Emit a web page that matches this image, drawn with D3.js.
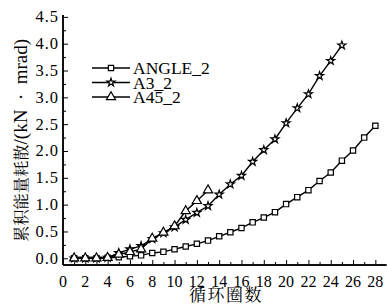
<!DOCTYPE html>
<html>
<head>
<meta charset="utf-8">
<title>Cumulative energy</title>
<script src="https://cdn.jsdelivr.net/npm/d3@7"></script>
<style>
  body { margin: 0; background: #fff; }
</style>
</head>
<body>
<script>
// values
var seriesNames = ["ANGLE_2", "A3_2", "A45_2"];
var angleCycles = d3.range(1, 29);
var angleValues = [0.0, 0.0, 0.0, 0.01, 0.02, 0.04, 0.055, 0.1, 0.12, 0.17, 0.22, 0.27, 0.33, 0.41,
                   0.485, 0.565, 0.67, 0.76, 0.86, 1.01, 1.14, 1.27, 1.44, 1.60, 1.82, 2.01, 2.25, 2.47];
var a3Cycles = d3.range(1, 26);
var a3Values = [0.0, 0.0, 0.0, 0.01, 0.1, 0.17, 0.23, 0.36, 0.47, 0.58, 0.72, 0.85, 0.975,
                1.19, 1.38, 1.54, 1.80, 2.02, 2.22, 2.52, 2.80, 3.06, 3.40, 3.68, 3.97];
var a45Cycles = d3.range(1, 14);
var a45Values = [0.0, 0.0, 0.0, 0.01, 0.07, 0.12, 0.17, 0.37, 0.48, 0.6, 0.88, 1.07, 1.27];
var xTicks = d3.range(0, 29, 2);
var yTicks = [0, 0.5, 1.0, 1.5, 2.0, 2.5, 3.0, 3.5, 4.0, 4.5];

var SERIF = "'Liberation Serif', 'Times New Roman', serif";
var CJK = "'Noto Serif CJK SC', 'Noto Sans CJK SC', serif";

var W = 387, H = 305;
var svg = d3.select("body").append("svg").attr("width", W).attr("height", H);

var x = d3.scaleLinear().domain([0, 29]).range([63, 386.5]);
var y = d3.scaleLinear().domain([-0.125, 4.535]).range([265, 15]);

// axes with inward ticks
var xMajor = d3.axisTop(x).tickValues(xTicks).tickSize(5).tickFormat("");
var xMinor = d3.axisTop(x).tickValues(d3.range(1, 29, 2)).tickSize(3).tickFormat("");
var gx = svg.append("g").attr("transform", "translate(0," + y(-0.125) + ")");
gx.call(xMajor);
gx.append("g").call(xMinor);
gx.selectAll("path.domain").attr("d", "M" + x(0) + ",0H" + x(29)).attr("stroke-width", 1.5);
svg.append("g").selectAll("text").data(xTicks).join("text")
  .attr("x", function(d) { return x(d); })
  .attr("y", 287)
  .attr("text-anchor", "middle")
  .style("font-family", SERIF)
  .style("font-size", "16px")
  .text(function(d) { return d; });

var yMajor = d3.axisRight(y).tickValues(yTicks).tickSize(5).tickFormat("");
var yMinor = d3.axisRight(y).tickValues(d3.range(0.25, 4.5, 0.5)).tickSize(3).tickFormat("");
var gy = svg.append("g").attr("transform", "translate(" + x(0) + ",0)");
gy.call(yMajor);
gy.append("g").call(yMinor);
gy.selectAll("path.domain").attr("d", "M0," + y(4.535) + "V" + y(-0.125)).attr("stroke-width", 1.5);
svg.append("g").selectAll("text").data(yTicks).join("text")
  .attr("x", 59)
  .attr("y", function(d) { return y(d) + 5.5; })
  .attr("text-anchor", "end")
  .attr("letter-spacing", 1)
  .style("font-family", SERIF)
  .style("font-size", "16.5px")
  .text(function(d) { return d.toFixed(1); });

// axis titles
svg.append("text")
  .attr("x", 226).attr("y", 301)
  .attr("text-anchor", "middle")
  .attr("letter-spacing", 1.5)
  .style("font-family", CJK)
  .style("font-size", "17px")
  .text("循环圈数");

var yl = svg.append("text")
  .attr("transform", "translate(27,140.5) rotate(-90)")
  .attr("text-anchor", "middle");
yl.append("tspan")
  .style("font-family", CJK).style("font-size", "16.3px")
  .text("累积能量耗散");
yl.append("tspan")
  .style("font-family", SERIF).style("font-size", "19px")
  .text("/(kN\u2002·\u2002mrad)");

// series
var symStar = d3.symbol().type(d3.symbolStar).size(20);
var symSquare = d3.symbol().type(d3.symbolSquare).size(28);
var symTri = d3.symbol().type(d3.symbolTriangle).size(36);

var series = [
  { name: seriesNames[0], xs: angleCycles, ys: angleValues, sym: symSquare },
  { name: seriesNames[1], xs: a3Cycles, ys: a3Values, sym: symStar },
  { name: seriesNames[2], xs: a45Cycles, ys: a45Values, sym: symTri }
];

var line = d3.line()
  .x(function(d) { return x(d[0]); })
  .y(function(d) { return y(d[1]); });

series.forEach(function(s) {
  var pts = s.xs.map(function(c, i) { return [c, s.ys[i]]; });
  var g = svg.append("g");
  g.append("path")
    .attr("d", line(pts))
    .attr("fill", "none")
    .attr("stroke", "#000")
    .attr("stroke-width", 1.4);
  g.selectAll("path.m").data(pts).join("path")
    .attr("class", "m")
    .attr("d", s.sym())
    .attr("transform", function(d) { return "translate(" + x(d[0]) + "," + y(d[1]) + ")"; })
    .attr("fill", "#fff")
    .attr("stroke", "#000")
    .attr("stroke-width", 1.2);
});

// legend
var leg = svg.append("g").selectAll("g").data(series).join("g")
  .attr("transform", function(d, i) { return "translate(0," + (68 + i * 14.5) + ")"; });
leg.append("line")
  .attr("x1", 92).attr("x2", 130)
  .attr("stroke", "#000").attr("stroke-width", 1.6);
leg.append("path")
  .attr("d", function(d) { return d.sym(); })
  .attr("transform", "translate(111,0)")
  .attr("fill", "#fff").attr("stroke", "#000").attr("stroke-width", 1.2);
leg.append("text")
  .attr("x", 133).attr("y", 6)
  .style("font-family", SERIF)
  .style("font-size", "17.5px")
  .text(function(d) { return d.name; });
</script>
</body>
</html>
